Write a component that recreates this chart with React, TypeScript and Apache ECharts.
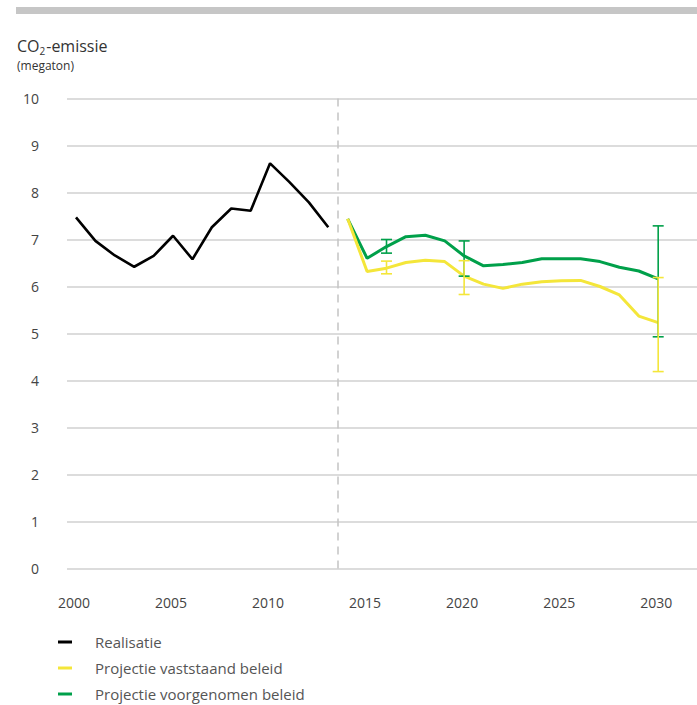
import React, { useEffect, useRef } from "react";
import * as echarts from "echarts";

const FONT = "'Open Sans', Lato, sans-serif";

const realYears = [2000, 2001, 2002, 2003, 2004, 2005, 2006, 2007, 2008, 2009, 2010, 2011, 2012, 2013];
const realValues = [7.47, 6.97, 6.66, 6.42, 6.65, 7.08, 6.58, 7.26, 7.66, 7.61, 8.62, 8.22, 7.79, 7.26];

const projYears = [2014, 2015, 2016, 2017, 2018, 2019, 2020, 2021, 2022, 2023, 2024, 2025, 2026, 2027, 2028, 2029, 2030];
const vaststaandValues = [7.44, 6.32, 6.39, 6.51, 6.56, 6.53, 6.22, 6.05, 5.96, 6.05, 6.1, 6.12, 6.13, 6.0, 5.82, 5.37, 5.23];
const voorgenomenValues = [7.44, 6.6, 6.85, 7.06, 7.09, 6.97, 6.65, 6.44, 6.47, 6.51, 6.59, 6.59, 6.59, 6.53, 6.41, 6.33, 6.16];

const errorYears = [2016, 2020, 2030];
const vaststaandLow = [6.27, 5.83, 4.19];
const vaststaandHigh = [6.54, 6.55, 6.19];
const voorgenomenLow = [6.71, 6.22, 4.93];
const voorgenomenHigh = [7.0, 6.97, 7.29];

const xTicks = [2000, 2005, 2010, 2015, 2020, 2025, 2030];
const yTicks = [0, 1, 2, 3, 4, 5, 6, 7, 8, 9, 10];
const splitYear = 2013.5;

const seriesNames = ["Realisatie", "Projectie vaststaand beleid", "Projectie voorgenomen beleid"];

const BLACK = "#000000";
const YELLOW = "#f4e63a";
const GREEN = "#00a04a";

function errorBarSeries(name: string, color: string, lows: number[], highs: number[], z: number) {
  return {
    type: "custom",
    name,
    z,
    silent: true,
    encode: { x: 0, y: [1, 2] },
    data: errorYears.map((y, i) => [y, lows[i], highs[i]]),
    renderItem: (params: any, api: any) => {
      const x = api.value(0);
      const lo = api.coord([x, api.value(1)]);
      const hi = api.coord([x, api.value(2)]);
      const w = 5.5;
      const st = { stroke: color, lineWidth: 1.6, fill: "none" };
      return {
        type: "group",
        children: [
          { type: "line", shape: { x1: hi[0], y1: hi[1], x2: lo[0], y2: lo[1] }, style: st },
          { type: "line", shape: { x1: hi[0] - w, y1: hi[1], x2: hi[0] + w, y2: hi[1] }, style: st },
          { type: "line", shape: { x1: lo[0] - w, y1: lo[1], x2: lo[0] + w, y2: lo[1] }, style: st },
        ],
      };
    },
  };
}

export default function App() {
  const ref = useRef<HTMLDivElement>(null);
  useEffect(() => {
    if (!ref.current) return;
    const chart = echarts.init(ref.current, null, { renderer: "svg" });
    chart.setOption({
      animation: false,
      backgroundColor: "#ffffff",
      textStyle: { fontFamily: FONT },
      grid: { left: 67, right: 0, top: 98.5, height: 470, containLabel: false },
      xAxis: {
        type: "value",
        min: 1999.536,
        max: 2032,
        axisLine: { show: false },
        axisTick: { show: false },
        splitLine: { show: false },
        axisLabel: {
          customValues: xTicks,
          formatter: (v: number) => String(Math.round(v)),
          margin: 27,
          fontSize: 14,
          color: "#444",
          fontFamily: FONT,
          padding: [0, 4, 0, 0],
        },
      },
      yAxis: {
        type: "value",
        min: 0,
        max: 10,
        interval: 1,
        axisLine: { show: false },
        axisTick: { show: false },
        splitLine: { show: true, lineStyle: { color: "#dcdcdc", width: 2 } },
        axisLabel: {
          customValues: yTicks,
          formatter: (v: number) => String(Math.round(v)),
          margin: 28,
          fontSize: 14,
          color: "#444",
          fontFamily: FONT,
        },
      },
      legend: {
        orient: "vertical",
        left: 58,
        top: 634,
        padding: 0,
        itemWidth: 14,
        itemHeight: 3,
        itemGap: 10,
        icon: "rect",
        selectedMode: false,
        data: seriesNames,
        textStyle: { fontSize: 15, color: "#555", fontFamily: FONT, lineHeight: 16, padding: [0, 0, 0, 18] },
      },
      graphic: [
        { type: "rect", shape: { x: 16, y: 7, width: 681, height: 7 }, style: { fill: "#c6c6c6" } },
        {
          type: "text",
          x: 17,
          y: 36,
          style: {
            text: "{a|CO}{s|2}{a|-emissie}",
            fill: "#333",
            rich: {
              a: { fontSize: 16, fontFamily: FONT, lineHeight: 20, fill: "#333" },
              s: { fontSize: 10, fontFamily: FONT, lineHeight: 20, verticalAlign: "bottom", fill: "#333", padding: [0, 1, 0, 0] },
            },
          },
        },
        {
          type: "text",
          x: 17,
          y: 59,
          style: { text: "(megaton)", fontSize: 12, fontFamily: FONT, fill: "#333" },
        },
      ],
      series: [
        {
          name: seriesNames[0],
          type: "line",
          z: 5,
          color: BLACK,
          showSymbol: false,
          symbol: "none",
          lineStyle: { color: BLACK, width: 2.6 },
          data: realYears.map((y, i) => [y, realValues[i]]),
          markLine: {
            silent: true,
            symbol: "none",
            label: { show: false },
            lineStyle: { color: "#c4c4c4", width: 1.5, type: [8, 6] },
            data: [{ xAxis: splitYear }],
          },
        },
        {
          name: seriesNames[2],
          type: "line",
          z: 3,
          color: GREEN,
          showSymbol: false,
          symbol: "none",
          lineStyle: { color: GREEN, width: 3 },
          data: projYears.map((y, i) => [y, voorgenomenValues[i]]),
        },
        {
          name: seriesNames[1],
          type: "line",
          z: 4,
          color: YELLOW,
          showSymbol: false,
          symbol: "none",
          lineStyle: { color: YELLOW, width: 3 },
          data: projYears.map((y, i) => [y, vaststaandValues[i]]),
        },
        errorBarSeries("err-voorgenomen", GREEN, voorgenomenLow, voorgenomenHigh, 4.5),
        errorBarSeries("err-vaststaand", YELLOW, vaststaandLow, vaststaandHigh, 4.6),
      ],
    });
    return () => chart.dispose();
  }, []);
  return (
    <div
      ref={ref}
      style={{ position: "fixed", left: 0, top: 0, width: 697, height: 705, background: "#fff" }}
    />
  );
}
